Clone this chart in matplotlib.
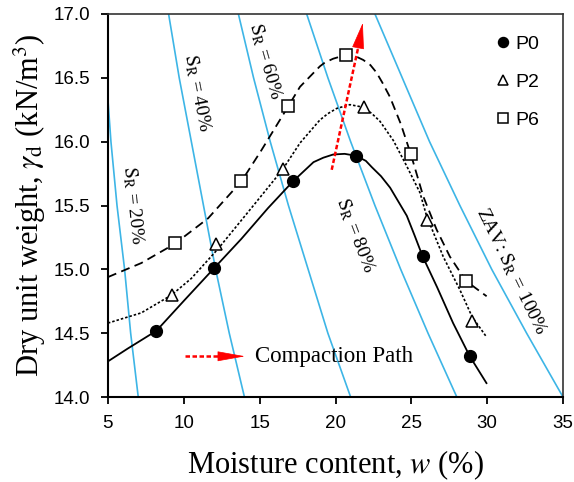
import numpy as np
import matplotlib
matplotlib.use("Agg")
import matplotlib.pyplot as plt

plt.rcParams['font.family'] = 'Liberation Sans'
plt.rcParams['mathtext.fontset'] = 'stix'

# measured points
p0_w = [8.2, 12.0, 17.2, 21.35, 25.75, 28.85]
p0_y = [14.52, 15.01, 15.695, 15.89, 15.105, 14.32]
p2_w = [9.2, 12.15, 16.55, 21.85, 26.0, 29.0]
p2_y = [14.80, 15.20, 15.79, 16.27, 15.39, 14.60]
p6_w = [9.4, 13.8, 16.9, 20.7, 24.97, 28.6]
p6_y = [15.205, 15.69, 16.28, 16.68, 15.90, 14.91]

# fitted curves
c0_w = [5.0, 6.3, 8.2, 10.05, 12.0, 13.8, 15.55, 17.2, 18.55, 19.2, 19.85, 20.6, 21.35, 22.0, 22.4, 23.0,
        23.6, 24.7, 25.2, 25.75, 26.7, 27.75, 28.85, 29.95]
c0_y = [14.28, 14.38, 14.52, 14.76, 15.01, 15.24, 15.48, 15.69, 15.84, 15.875, 15.90, 15.905, 15.89, 15.85, 15.80, 15.73,
        15.64, 15.42, 15.27, 15.10, 14.86, 14.58, 14.32, 14.11]
c2_w = [5.0, 7.2, 9.2, 10.5, 12.25, 14.45, 16.5, 17.66, 18.97, 19.5, 20.07, 20.95, 21.83, 22.4, 22.93, 23.81,
        24.69, 25.57, 26.0, 27.1, 28.2, 29.0, 29.96]
c2_y = [14.58, 14.66, 14.80, 14.93, 15.16, 15.48, 15.78, 15.99, 16.17, 16.22, 16.26, 16.29, 16.27, 16.22, 16.16, 16.01,
        15.81, 15.60, 15.42, 15.10, 14.84, 14.63, 14.47]
c6_w = [5.0, 7.2, 9.4, 11.6, 13.8, 15.1, 16.9, 17.66, 18.97, 19.3, 19.85, 20.7, 21.3, 21.83, 22.3, 22.71, 23.1,
        23.59, 24.3, 24.97, 25.79, 26.67, 27.54, 28.6, 29.96]
c6_y = [14.94, 15.05, 15.20, 15.40, 15.69, 15.93, 16.28, 16.43, 16.59, 16.62, 16.65, 16.68, 16.67, 16.64, 16.60, 16.54, 16.46,
        16.35, 16.14, 15.90, 15.57, 15.31, 15.10, 14.91, 14.79]

# saturation lines: w (%) at each dry unit weight
sat_g = [14.0, 14.5, 15.0, 15.5, 16.0, 16.5, 17.0]
sr20_w = [7.0, 6.5, 6.1, 5.6, 5.2, 4.9, 4.5]
sr40_w = [14.0, 13.0, 12.1, 11.3, 10.5, 9.7, 9.0]
sr60_w = [21.0, 19.5, 18.2, 16.9, 15.7, 14.6, 13.6]
sr80_w = [28.0, 26.1, 24.3, 22.6, 21.0, 19.5, 18.1]
sr100_w = [35.0, 32.6, 30.3, 28.2, 26.2, 24.4, 22.6]

fig = plt.figure(figsize=(5.74, 4.82), dpi=100)
ax = fig.add_axes([0.188, 0.176, 0.793, 0.795])

blue = '#3db5e6'
for sw in [sr20_w, sr40_w, sr60_w, sr80_w, sr100_w]:
    ax.plot(sw, sat_g, color=blue, lw=1.2)

ax.plot(c0_w, c0_y, '-', color='k', lw=1.3)
ax.plot(c2_w, c2_y, color='k', lw=1.2, dashes=(1.5, 1.2))
ax.plot(c6_w, c6_y, color='k', lw=1.3, dashes=(5, 3))

ax.plot(p0_w, p0_y, 'o', color='k', ms=8.5, label='P0')
ax.plot(p2_w, p2_y, '^', mfc='white', mec='k', mew=1.1, ms=8, label='P2')
ax.plot(p6_w, p6_y, 's', mfc='white', mec='k', mew=1.1, ms=8.5, label='P6')

# compaction path arrows
ax.plot([19.75, 21.5], [15.78, 16.74], color='red', lw=1.8, dashes=(1.8, 1.0))
ax.annotate('', xy=(21.8, 16.93), xytext=(21.48, 16.73),
            arrowprops=dict(arrowstyle='-|>,head_length=0.95,head_width=0.22',
                            color='red', lw=0.5, mutation_scale=18,
                            shrinkA=0, shrinkB=0))
ax.plot([10.06, 12.4], [14.32, 14.32], color='red', lw=1.8, dashes=(1.8, 1.0))
ax.annotate('', xy=(14.03, 14.32), xytext=(12.36, 14.32),
            arrowprops=dict(arrowstyle='-|>,head_length=1.0,head_width=0.18',
                            color='red', lw=0.5, mutation_scale=18,
                            shrinkA=0, shrinkB=0))
ax.text(14.7, 14.32, 'Compaction Path', family='Liberation Serif', fontsize=16.5,
        va='center', ha='left')

# saturation labels
lab = dict(family='Liberation Serif', fontsize=14, ha='center', va='center')
ax.text(6.65, 15.50, r'$\mathrm{S_R}$ = 20%', rotation=-84, **lab)
ax.text(10.9, 16.38, r'$\mathrm{S_R}$ = 40%', rotation=-79, **lab)
ax.text(15.35, 16.63, r'$\mathrm{S_R}$ = 60%', rotation=-74, **lab)
ax.text(21.3, 15.27, r'$\mathrm{S_R}$ = 80%', rotation=-69, **lab)
ax.text(31.6, 14.99, r'ZAV: $\mathrm{S_R}$ = 100%', rotation=-64, **lab)

ax.set_xlim(5, 35)
ax.set_ylim(14.0, 17.0)
ax.set_xticks(np.arange(5, 36, 5))
ax.set_yticks(np.arange(14.0, 17.01, 0.5))
ax.set_yticklabels(['%.1f' % v for v in np.arange(14.0, 17.01, 0.5)])
ax.tick_params(labelsize=13.5, direction='out', length=5, width=1.3, pad=7.5)
for s in ['left', 'bottom']:
    ax.spines[s].set_linewidth(1.5)
for s in ['top', 'right']:
    ax.spines[s].set_linewidth(1.2)
    ax.spines[s].set_color('#333333')

ax.set_xlabel('Moisture content, $w$ (%)', family='Liberation Serif', fontsize=22, labelpad=12)
ax.set_ylabel(r'Dry unit weight, $\gamma_\mathrm{d}$ (kN/m$^3$)', family='Liberation Serif',
              fontsize=22, labelpad=4)

ax.legend(loc='upper right', frameon=False, fontsize=14, handlelength=0.6,
          handletextpad=0.3, labelspacing=1.04, markerscale=0.85,
          bbox_to_anchor=(0.985, 0.99))

fig.savefig('out.png', dpi=100)
